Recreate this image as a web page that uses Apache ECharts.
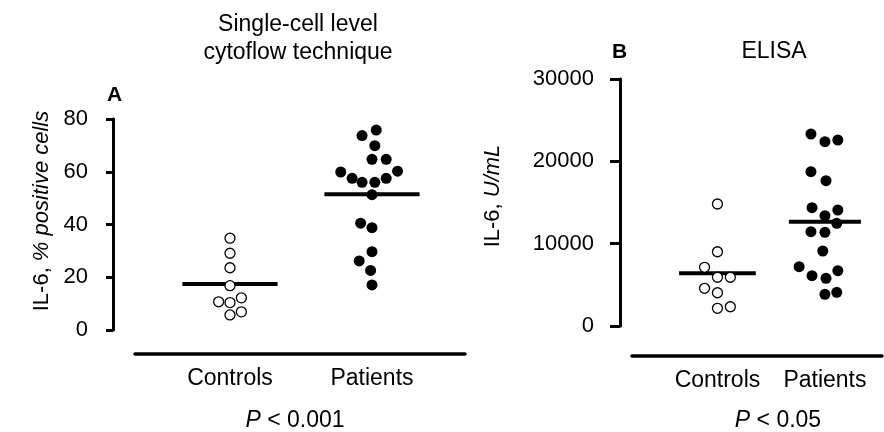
<!DOCTYPE html>
<html>
<head>
<meta charset="utf-8">
<script src="https://cdn.jsdelivr.net/npm/echarts@6/dist/echarts.min.js"></script>
<style>html,body{margin:0;padding:0;background:#fff}#c{width:884px;height:432px}</style>
</head>
<body>
<div id="c"></div>
<script>
// ---- data ----
const categories = ['Controls', 'Patients'];
const yTicksA = [0, 20, 40, 60, 80];
const yTicksB = [0, 10000, 20000, 30000];

// Panel A: IL-6, % positive cells
const ctrlA = [34.8, 29.1, 23.6, 16.8, 10.7, 10.4, 12.2, 5.7, 6.9];
const ctrlAJitter = [0, 0, 0, 0, -0.08, 0, 0.08, 0, 0.08];
const patA = [75.8, 73.7, 69.9, 64.7, 64.7, 59.9, 60.2, 57.5, 57.5, 56.0, 56.0, 51.3, 40.5, 38.8, 29.7, 26.2, 22.6, 17.1];
const patAJitter = [0.03, -0.07, 0.02, 0.0, 0.1, -0.22, 0.18, -0.14, 0.1, -0.07, 0.02, 0, -0.08, 0, 0, -0.09, -0.01, 0];
const medianA = [17.4, 51.5];

// Panel B: IL-6, U/mL (ELISA)
const ctrlB = [14820, 9020, 7130, 5920, 5920, 4580, 4040, 2150, 2340];
const ctrlBJitter = [0, 0, -0.12, 0, 0.12, -0.12, 0, 0, 0.12];
const patB = [23320, 22390, 22590, 18740, 17650, 14370, 14090, 13400, 12470, 11450, 11380, 9110, 7200, 6110, 5790, 6720, 3850, 4090];
const patBJitter = [-0.13, 0, 0.12, -0.13, 0.01, -0.12, 0.12, 0, 0.11, -0.13, 0, -0.02, -0.24, -0.12, 0.01, 0.12, 0, 0.11];
const medianB = [6400, 12670];

const pValA = '0.001';
const pValB = '0.05';

// ---- build ----
const FONT = 'Liberation Sans';
const pts = (vals, jit, center) => vals.map((v, i) => [center + jit[i], v]);
const medLine = (m, center, hw) => [[center - hw, m], [center + hw, m]];

const chart = echarts.init(document.getElementById('c'), null, {renderer: 'canvas'});

const yAxisCommon = {
  type: 'value', position: 'left',
  axisLine: {show: true, lineStyle: {color: '#000', width: 3}},
  splitLine: {show: false},
  nameLocation: 'middle', nameRotate: 90
};
const xAxisCommon = {
  type: 'value', position: 'bottom',
  axisLine: {show: true, onZero: false, lineStyle: {color: '#000', width: 3.5}},
  axisTick: {show: false},
  splitLine: {show: false},
  axisLabel: {
    customValues: [1, 2], margin: 13,
    color: '#000', fontSize: 23, fontFamily: FONT,
    formatter: v => categories[Math.round(v) - 1] || ''
  }
};
const richName = {
  n: {fontSize: 22, fontFamily: FONT, color: '#000'},
  i: {fontSize: 22, fontFamily: FONT, fontStyle: 'italic', color: '#000'}
};

const ctrlStyle = {color: '#fff', borderColor: '#000', borderWidth: 1.3, opacity: 1};
const patStyle = {color: '#000', opacity: 1};

chart.setOption({
  animation: false,
  backgroundColor: '#fff',
  grid: [
    {left: 135, top: 119, width: 330, height: 211},
    {left: 632, top: 79, width: 250, height: 247}
  ],
  xAxis: [
    Object.assign({}, xAxisCommon, {gridIndex: 0, min: 0.331, max: 2.655, offset: 24}),
    Object.assign({}, xAxisCommon, {gridIndex: 1, min: 0.205, max: 2.531, offset: 30})
  ],
  yAxis: [
    Object.assign({}, yAxisCommon, {
      gridIndex: 0, min: yTicksA[0], max: yTicksA[yTicksA.length - 1], interval: yTicksA[1] - yTicksA[0],
      offset: 22, nameGap: 60,
      axisTick: {show: true, inside: false, length: 7, lineStyle: {color: '#000', width: 3}},
      axisLabel: {color: '#000', fontSize: 22, fontFamily: FONT, margin: 25, formatter: v => String(v)},
      name: '{n|IL-6, }{i|% positive cells}',
      nameTextStyle: {color: '#000', fontSize: 22, fontFamily: FONT, padding: [0, 0, 0, 27], rich: richName}
    }),
    Object.assign({}, yAxisCommon, {
      gridIndex: 1, min: yTicksB[0], max: yTicksB[yTicksB.length - 1], interval: yTicksB[1] - yTicksB[0],
      offset: 12, nameGap: 116,
      axisTick: {show: true, inside: false, length: 10, lineStyle: {color: '#000', width: 3}},
      axisLabel: {color: '#000', fontSize: 22, fontFamily: FONT, margin: 26, formatter: v => String(v)},
      name: '{n|IL-6, }{i|U/mL}',
      nameTextStyle: {color: '#000', fontSize: 22, fontFamily: FONT, padding: [0, 0, 0, 13], rich: richName}
    })
  ],
  series: [
    {type: 'line', xAxisIndex: 0, yAxisIndex: 0, data: medLine(medianA[0], 1, 0.335), symbol: 'none', lineStyle: {color: '#000', width: 4}, z: 1},
    {type: 'line', xAxisIndex: 0, yAxisIndex: 0, data: medLine(medianA[1], 2, 0.335), symbol: 'none', lineStyle: {color: '#000', width: 4}, z: 1},
    {type: 'line', xAxisIndex: 1, yAxisIndex: 1, data: medLine(medianB[0], 1, 0.357), symbol: 'none', lineStyle: {color: '#000', width: 4}, z: 1},
    {type: 'line', xAxisIndex: 1, yAxisIndex: 1, data: medLine(medianB[1], 2, 0.335), symbol: 'none', lineStyle: {color: '#000', width: 4}, z: 1},
    {type: 'scatter', xAxisIndex: 0, yAxisIndex: 0, data: pts(ctrlA, ctrlAJitter, 1), symbol: 'circle', symbolSize: 10, itemStyle: ctrlStyle, z: 3},
    {type: 'scatter', xAxisIndex: 0, yAxisIndex: 0, data: pts(patA, patAJitter, 2), symbol: 'circle', symbolSize: 11, itemStyle: patStyle, z: 3},
    {type: 'scatter', xAxisIndex: 1, yAxisIndex: 1, data: pts(ctrlB, ctrlBJitter, 1), symbol: 'circle', symbolSize: 10, itemStyle: ctrlStyle, z: 3},
    {type: 'scatter', xAxisIndex: 1, yAxisIndex: 1, data: pts(patB, patBJitter, 2), symbol: 'circle', symbolSize: 11, itemStyle: patStyle, z: 3}
  ],
  graphic: [
    {type: 'text', style: {x: 298, y: 25, text: 'Single-cell level', align: 'center', verticalAlign: 'middle', fontSize: 23, fontFamily: FONT, fill: '#000'}},
    {type: 'text', style: {x: 298, y: 53, text: 'cytoflow technique', align: 'center', verticalAlign: 'middle', fontSize: 23, fontFamily: FONT, fill: '#000'}},
    {type: 'text', style: {x: 114.5, y: 95, text: 'A', align: 'center', verticalAlign: 'middle', fontSize: 21, fontWeight: 'bold', fontFamily: FONT, fill: '#000'}},
    {type: 'text', style: {x: 619.5, y: 52, text: 'B', align: 'center', verticalAlign: 'middle', fontSize: 21, fontWeight: 'bold', fontFamily: FONT, fill: '#000'}},
    {type: 'text', style: {x: 774, y: 52, text: 'ELISA', align: 'center', verticalAlign: 'middle', fontSize: 23, fontFamily: FONT, fill: '#000'}},
    {type: 'text', style: {x: 295, y: 421, text: '{i|P}{n| < ' + pValA + '}', align: 'center', verticalAlign: 'middle', fontSize: 23, fontFamily: FONT, fill: '#000',
      rich: {i: {fontStyle: 'italic', fontSize: 23, fontFamily: FONT, fill: '#000'}, n: {fontSize: 23, fontFamily: FONT, fill: '#000'}}}},
    {type: 'text', style: {x: 778, y: 421, text: '{i|P}{n| < ' + pValB + '}', align: 'center', verticalAlign: 'middle', fontSize: 23, fontFamily: FONT, fill: '#000',
      rich: {i: {fontStyle: 'italic', fontSize: 23, fontFamily: FONT, fill: '#000'}, n: {fontSize: 23, fontFamily: FONT, fill: '#000'}}}}
  ]
});
</script>
</body>
</html>
